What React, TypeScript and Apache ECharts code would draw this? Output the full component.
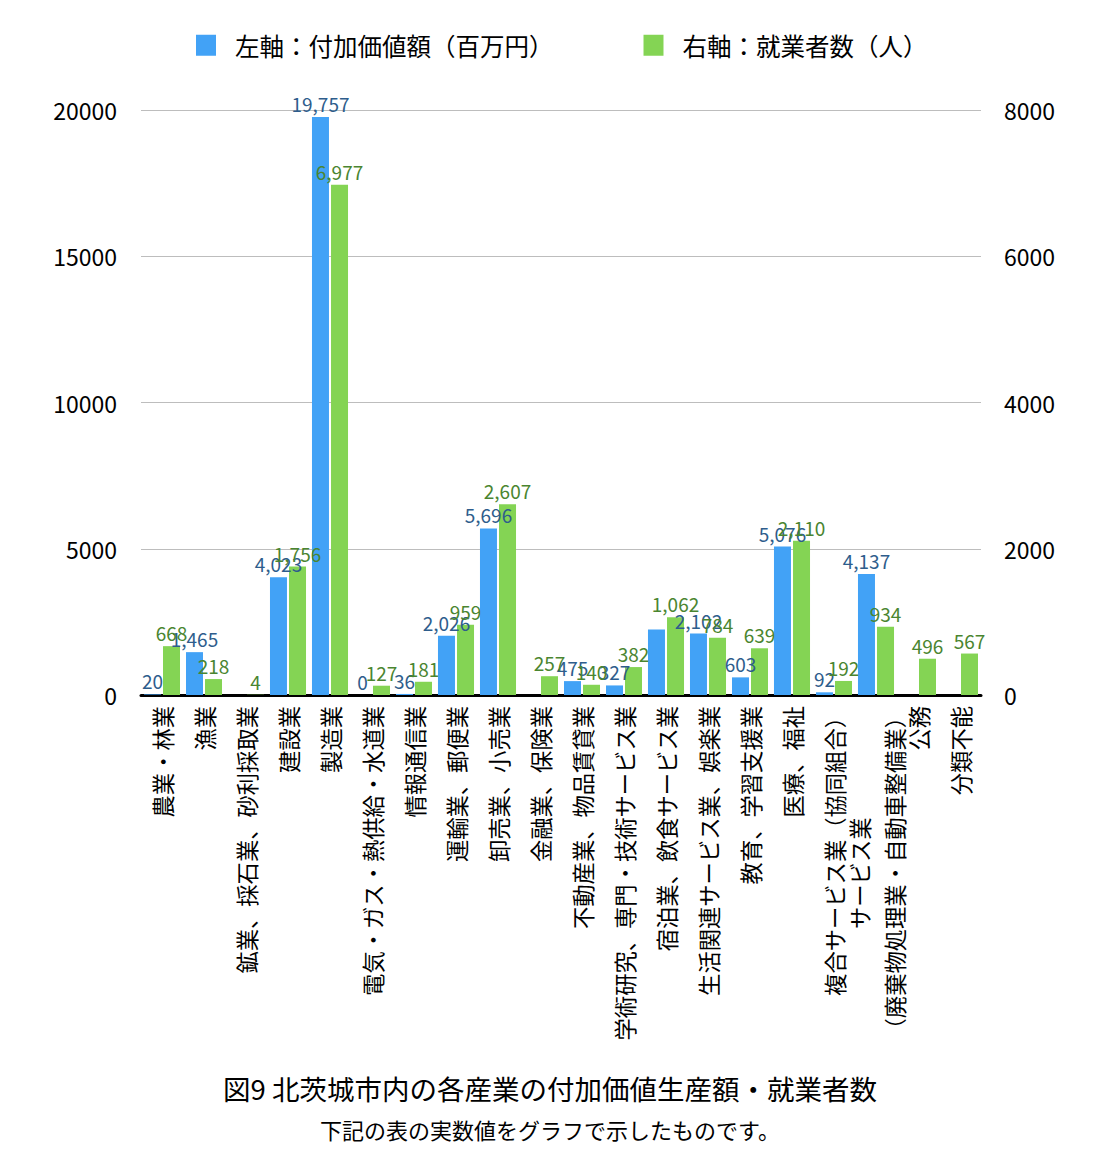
import React, { useEffect, useRef } from "react";
import * as echarts from "echarts";

const categories = [
  "農業・林業",
  "漁業",
  "鉱業、採石業、砂利採取業",
  "建設業",
  "製造業",
  "電気・ガス・熱供給・水道業",
  "情報通信業",
  "運輸業、郵便業",
  "卸売業、小売業",
  "金融業、保険業",
  "不動産業、物品賃貸業",
  "学術研究、専門・技術サービス業",
  "宿泊業、飲食サービス業",
  "生活関連サービス業、娯楽業",
  "教育、学習支援業",
  "医療、福祉",
  "複合サービス業（協同組合）",
  "サービス業　　　　　\n（廃棄物処理業・自動車整備業）",
  "公務",
  "分類不能",
];

const valueAdded: (number | null)[] = [
  20, 1465, null, 4023, 19757, 0, 36, 2026, 5696, null, 475, 327, 2240, 2102, 603, 5076, 92, 4137, null, null,
];

const workers: number[] = [
  668, 218, 4, 1756, 6977, 127, 181, 959, 2607, 257, 140, 382, 1062, 784, 639, 2110, 192, 934, 496, 567,
];

// indices of value labels hidden in the original (overlap)
const hiddenValueAddedLabels = [12];

const leftTicks = { min: 0, max: 20000, interval: 5000 };
const rightTicks = { min: 0, max: 8000, interval: 2000 };

const seriesNames = ["左軸：付加価値額（百万円）", "右軸：就業者数（人）"];
const titleText = "図9 北茨城市内の各産業の付加価値生産額・就業者数";
const subtitleText = "下記の表の実数値をグラフで示したものです。";

const FONT = '"Noto Sans CJK JP", "Noto Sans", sans-serif';
const BLUE = "#42a2f6";
const GREEN = "#84d454";

const fmt = (p: any) => {
  const v = Array.isArray(p.value) ? p.value[1] : p.value;
  if (v === null || v === undefined || v === "-") return "";
  return Number(v).toLocaleString("en-US");
};

export default function App() {
  const ref = useRef<HTMLDivElement>(null);
  useEffect(() => {
    if (!ref.current) return;
    const chart = echarts.init(ref.current, undefined, { renderer: "svg" });
    const xData = categories.map((c, i) =>
      i === 17 ? { value: c, textStyle: { lineHeight: 35 } } : c
    );
    const blueData = valueAdded.map((v, i) =>
      v === null
        ? "-"
        : hiddenValueAddedLabels.includes(i)
        ? { value: v, label: { show: false } }
        : v
    );
    chart.setOption({
      animation: false,
      textStyle: { fontFamily: FONT },
      title: [
        {
          text: titleText,
          left: "center",
          top: 1069,
          textStyle: { fontFamily: FONT, fontSize: 27.5, fontWeight: "normal", color: "#000" },
        },
        {
          text: subtitleText,
          left: "center",
          top: 1113,
          textStyle: { fontFamily: FONT, fontSize: 22, fontWeight: "normal", color: "#000" },
        },
      ],
      legend: {
        left: 196,
        top: 33,
        padding: 0,
        itemWidth: 20,
        itemHeight: 21,
        itemGap: 90,
        icon: "rect",
        data: seriesNames,
        textStyle: { fontFamily: FONT, fontSize: 24.5, color: "#000", padding: [0, 0, 0, 14] },
      },
      grid: { left: 141, right: 119, top: 110, bottom: 457, containLabel: false },
      xAxis: {
        type: "category",
        data: xData,
        axisTick: { show: false },
        axisLine: { lineStyle: { color: "#000", width: 3 } },
        axisLabel: {
          interval: 0,
          rotate: 90,
          margin: 11,
          fontSize: 22.3,
          color: "#000",
          fontFamily: FONT,
        },
      },
      yAxis: [
        {
          type: "value",
          ...leftTicks,
          axisLine: { show: false },
          axisTick: { show: false },
          splitLine: { lineStyle: { color: "#bdbdbd", width: 1 } },
          axisLabel: { fontSize: 23, color: "#000", margin: 24, fontFamily: FONT, formatter: (v: number) => String(v) },
        },
        {
          type: "value",
          ...rightTicks,
          axisLine: { show: false },
          axisTick: { show: false },
          splitLine: { show: false },
          axisLabel: { fontSize: 23, color: "#000", margin: 23, fontFamily: FONT, formatter: (v: number) => String(v) },
        },
      ],
      series: [
        {
          name: seriesNames[0],
          type: "bar",
          yAxisIndex: 0,
          data: blueData,
          barWidth: 17,
          barGap: "12%",
          itemStyle: { color: BLUE },
          label: {
            show: true,
            position: "top",
            distance: 4,
            formatter: fmt,
            fontSize: 19,
            color: "#2e5d8c",
            fontFamily: FONT,
          },
        },
        {
          name: seriesNames[1],
          type: "bar",
          yAxisIndex: 1,
          data: workers,
          barWidth: 17,
          barGap: "12%",
          itemStyle: { color: GREEN },
          label: {
            show: true,
            position: "top",
            distance: 4,
            formatter: fmt,
            fontSize: 19,
            color: "#4a8530",
            fontFamily: FONT,
          },
        },
      ],
    });
    return () => chart.dispose();
  }, []);
  return (
    <div
      ref={ref}
      style={{ position: "fixed", left: 0, top: 0, width: 1100, height: 1152, background: "#fff" }}
    />
  );
}
